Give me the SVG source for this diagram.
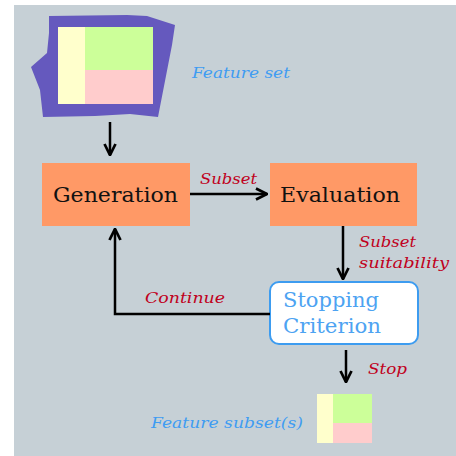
<svg xmlns="http://www.w3.org/2000/svg" width="456" height="456" viewBox="0 0 456 456">
<style>
.lbl{font-family:"DejaVu Serif","Liberation Serif",serif;font-style:italic;fill:#C00020;font-size:15px}
.blue{font-family:"DejaVu Serif","Liberation Serif",serif;font-style:italic;fill:#3F9CF2;font-size:15px}
.box{fill:#FF9966}
.btxt{font-family:"DejaVu Serif","Liberation Serif",serif;font-size:21px;fill:#111}
.stxt{font-family:"DejaVu Serif","Liberation Serif",serif;font-size:20px;fill:#4DA3F2}
.con{fill:none;stroke:#000;stroke-width:2.5;marker-end:url(#ah)}
</style>
<defs>
<marker id="ah" viewBox="0 0 10 10" refX="9" refY="5" markerWidth="5.5" markerHeight="5.5" orient="auto" markerUnits="strokeWidth">
<path d="M1,1 L9,5 L1,9" fill="none" stroke="#000" stroke-width="2"/>
</marker>
</defs>
<rect x="14" y="5" width="442" height="451" fill="#C6D0D6"/>
<g id="featureset">
<polygon points="49,16 127,15 147,16 175,25 172,45 158,117 130,114 95,116 43,117 40,90 31,67 47,53 49,33" fill="#6559BE"/>
<rect x="58" y="27" width="27" height="77" fill="#FFFFCC"/>
<rect x="85" y="27" width="68" height="43" fill="#CCFF99"/>
<rect x="85" y="70" width="68" height="34" fill="#FFCCCC"/>
<text class="blue" x="192" y="78" textLength="98" lengthAdjust="spacingAndGlyphs">Feature set</text>
</g>
<g id="generation">
<rect class="box" x="42" y="163" width="148" height="63"/>
<text class="btxt" x="53" y="202" textLength="125" lengthAdjust="spacingAndGlyphs">Generation</text>
</g>
<g id="evaluation">
<rect class="box" x="270" y="163" width="147" height="63"/>
<text class="btxt" x="280" y="202" textLength="120" lengthAdjust="spacingAndGlyphs">Evaluation</text>
</g>
<g id="stopping">
<rect x="270" y="282" width="148" height="62" rx="9" fill="#fff" stroke="#3D9CF0" stroke-width="2"/>
<text class="stxt" x="283" y="307" textLength="96" lengthAdjust="spacingAndGlyphs">Stopping</text>
<text class="stxt" x="283" y="333" textLength="98" lengthAdjust="spacingAndGlyphs">Criterion</text>
</g>
<g id="subset">
<rect x="317" y="394" width="16" height="49" fill="#FFFFCC"/>
<rect x="333" y="394" width="39" height="29" fill="#CCFF99"/>
<rect x="333" y="423" width="39" height="20" fill="#FFCCCC"/>
<text class="blue" x="151" y="428" textLength="152" lengthAdjust="spacingAndGlyphs">Feature subset(s)</text>
</g>
<g id="connectors">
<path class="con" d="M110,122 V155"/>
<path class="con" d="M190,194 H267"/>
<path class="con" d="M343,226 V279"/>
<path class="con" d="M270,314 H115 V229"/>
<path class="con" d="M346,350 V382"/>
<text class="lbl" x="200" y="184" textLength="57" lengthAdjust="spacingAndGlyphs">Subset</text>
<text class="lbl" x="359" y="247" textLength="57" lengthAdjust="spacingAndGlyphs">Subset</text>
<text class="lbl" x="359" y="268" textLength="90" lengthAdjust="spacingAndGlyphs">suitability</text>
<text class="lbl" x="145" y="303" textLength="80" lengthAdjust="spacingAndGlyphs">Continue</text>
<text class="lbl" x="368" y="374" textLength="39" lengthAdjust="spacingAndGlyphs">Stop</text>
</g>
</svg>
